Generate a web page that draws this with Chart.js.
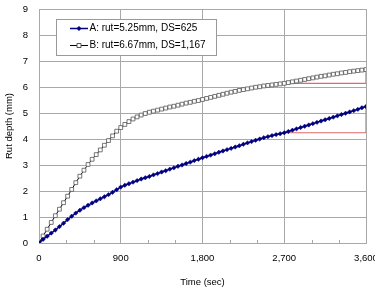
<!DOCTYPE html>
<html>
<head>
<meta charset="utf-8">
<script src="https://cdn.jsdelivr.net/npm/chart.js@4.4.0/dist/chart.umd.min.js"></script>
<style>
html, body { margin: 0; padding: 0; background: #fff; }
#wrap { width: 375px; height: 288px; }
</style>
</head>
<body>
<div id="wrap"><canvas id="chart" width="375" height="288"></canvas></div>
<script>
// elapsed time (sec)
const times = [0, 45, 90, 135, 180, 225, 270, 315, 360, 405,
    450, 495, 540, 585, 630, 675, 720, 765, 810, 855,
    900, 945, 990, 1035, 1080, 1125, 1170, 1215, 1260, 1305,
    1350, 1395, 1440, 1485, 1530, 1575, 1620, 1665, 1710, 1755,
    1800, 1845, 1890, 1935, 1980, 2025, 2070, 2115, 2160, 2205,
    2250, 2295, 2340, 2385, 2430, 2475, 2520, 2565, 2610, 2655,
    2700, 2745, 2790, 2835, 2880, 2925, 2970, 3015, 3060, 3105,
    3150, 3195, 3240, 3285, 3330, 3375, 3420, 3465, 3510, 3555,
    3600];

// rut depth (mm)
const rutA = [0.00, 0.14, 0.26, 0.38, 0.50, 0.63, 0.76, 0.90, 1.03, 1.15,
    1.26, 1.36, 1.45, 1.54, 1.62, 1.70, 1.78, 1.86, 1.95, 2.05,
    2.15, 2.22, 2.28, 2.34, 2.40, 2.46, 2.51, 2.56, 2.62, 2.67,
    2.73, 2.78, 2.84, 2.89, 2.95, 3.00, 3.06, 3.11, 3.17, 3.22,
    3.28, 3.33, 3.38, 3.43, 3.49, 3.54, 3.59, 3.64, 3.69, 3.74,
    3.80, 3.85, 3.90, 3.95, 4.00, 4.05, 4.09, 4.13, 4.17, 4.20,
    4.24, 4.29, 4.34, 4.39, 4.44, 4.49, 4.54, 4.59, 4.64, 4.69,
    4.74, 4.79, 4.84, 4.89, 4.94, 4.99, 5.04, 5.09, 5.14, 5.20,
    5.25];
const rutB = [0.00, 0.27, 0.53, 0.79, 1.05, 1.30, 1.55, 1.80, 2.06, 2.32,
    2.57, 2.80, 3.02, 3.22, 3.40, 3.58, 3.76, 3.94, 4.12, 4.30,
    4.44, 4.56, 4.67, 4.77, 4.85, 4.92, 4.98, 5.03, 5.07, 5.11,
    5.15, 5.19, 5.23, 5.26, 5.30, 5.34, 5.38, 5.41, 5.45, 5.48,
    5.52, 5.56, 5.60, 5.64, 5.68, 5.72, 5.76, 5.80, 5.83, 5.87,
    5.90, 5.93, 5.96, 5.99, 6.01, 6.04, 6.06, 6.08, 6.10, 6.12,
    6.14, 6.17, 6.20, 6.23, 6.26, 6.29, 6.32, 6.35, 6.38, 6.41,
    6.43, 6.46, 6.49, 6.51, 6.54, 6.56, 6.59, 6.61, 6.63, 6.65,
    6.67];

const labelA = 'A: rut=5.25mm, DS=625';
const labelB = 'B: rut=6.67mm, DS=1,167';

// DS slope triangles (45 -> 60 min)
const slopeTimes = [2700, 3600, 3600];
const slopeA = [4.24, 4.24, 5.25];
const slopeB = [6.14, 6.14, 6.67];

const minorTicks = [300, 600, 1200, 1500, 2100, 2400, 3000, 3300];

const FONT = '"Liberation Sans", Arial, sans-serif';
const GRID = '#a8a8a8';

const toPoints = (xs, ys) => xs.map((x, i) => ({ x: x, y: ys[i] }));

// small tick marks on the inside of the time axis
const minorTickPlugin = {
    id: 'minorTicks',
    afterDraw(chart) {
        const ctx = chart.ctx;
        const xs = chart.scales.x;
        const bottom = chart.chartArea.bottom;
        ctx.save();
        ctx.strokeStyle = GRID;
        ctx.lineWidth = 1;
        minorTicks.forEach(t => {
            const px = Math.round(xs.getPixelForValue(t)) + 0.5;
            ctx.beginPath();
            ctx.moveTo(px, bottom);
            ctx.lineTo(px, bottom - 3);
            ctx.stroke();
        });
        ctx.restore();
    }
};

// boxed legend inside the plot
const boxLegendPlugin = {
    id: 'boxLegend',
    afterDatasetsDraw(chart) {
        const ctx = chart.ctx;
        const x = 56.5, y = 19.5, w = 160, h = 36;
        ctx.save();
        ctx.fillStyle = '#fff';
        ctx.strokeStyle = '#999';
        ctx.lineWidth = 1;
        ctx.fillRect(x, y, w, h);
        ctx.strokeRect(x, y, w, h);
        ctx.font = '10px ' + FONT;
        ctx.textBaseline = 'middle';
        chart.data.datasets.slice(0, 2).forEach((ds, i) => {
            const cy = 28.5 + i * 17;
            ctx.strokeStyle = ds.borderColor;
            ctx.lineWidth = ds.borderWidth;
            ctx.beginPath();
            ctx.moveTo(70, cy);
            ctx.lineTo(88, cy);
            ctx.stroke();
            ctx.fillStyle = ds.pointBackgroundColor;
            ctx.strokeStyle = ds.pointBorderColor;
            ctx.lineWidth = 1;
            ctx.beginPath();
            if (ds.pointStyle === 'rect') {
                ctx.rect(77, cy - 2, 4, 4);
                ctx.fill();
                ctx.stroke();
            } else {
                ctx.moveTo(79, cy - 2.5);
                ctx.lineTo(81.5, cy);
                ctx.lineTo(79, cy + 2.5);
                ctx.lineTo(76.5, cy);
                ctx.closePath();
                ctx.fill();
            }
            ctx.fillStyle = '#000';
            ctx.fillText(ds.label, 89.5, cy);
        });
        ctx.restore();
    }
};

new Chart(document.getElementById('chart'), {
    type: 'line',
    data: {
        datasets: [
            {
                label: labelA,
                data: toPoints(times, rutA),
                borderColor: '#000080',
                borderWidth: 1.5,
                pointStyle: 'rectRot',
                pointRadius: 2.2,
                pointBackgroundColor: '#000080',
                pointBorderColor: '#000080',
                pointBorderWidth: 0.5,
                tension: 0
            },
            {
                label: labelB,
                data: toPoints(times, rutB),
                borderColor: '#000',
                borderWidth: 1,
                pointStyle: 'rect',
                pointRadius: 2.7,
                pointBackgroundColor: '#fff',
                pointBorderColor: '#555',
                pointBorderWidth: 0.8,
                tension: 0
            },
            {
                label: 'slopeA',
                data: toPoints(slopeTimes, slopeA),
                borderColor: '#e06a6a',
                borderWidth: 1.2,
                pointRadius: 0,
                tension: 0
            },
            {
                label: 'slopeB',
                data: toPoints(slopeTimes, slopeB),
                borderColor: '#e06a6a',
                borderWidth: 1.2,
                pointRadius: 0,
                tension: 0
            }
        ]
    },
    options: {
        responsive: false,
        animation: false,
        layout: { padding: { left: 0, top: 9, right: 9, bottom: 0 } },
        plugins: {
            legend: { display: false },
            tooltip: { enabled: false }
        },
        scales: {
            x: {
                type: 'linear',
                min: 0,
                max: 3600,
                afterFit: (scale) => {
                    scale.height = 45;
                    scale.paddingLeft = 0;
                    scale.paddingRight = 0;
                },
                ticks: {
                    stepSize: 900,
                    padding: 10,
                    maxRotation: 0,
                    color: '#000',
                    font: { family: FONT, size: 9.5 },
                    callback: (v) => v.toLocaleString('en-US')
                },
                grid: { color: GRID, drawTicks: false },
                border: { color: GRID },
                title: {
                    display: true,
                    text: 'Time (sec)',
                    color: '#000',
                    font: { family: FONT, size: 9.5 },
                    padding: { top: 0, bottom: 0 }
                }
            },
            y: {
                min: 0,
                max: 9,
                afterFit: (scale) => {
                    scale.width = 39;
                    scale.paddingTop = 0;
                    scale.paddingBottom = 0;
                },
                ticks: {
                    stepSize: 1,
                    padding: 11,
                    color: '#000',
                    font: { family: FONT, size: 9.5 }
                },
                grid: { color: GRID, drawTicks: false },
                border: { color: GRID },
                title: {
                    display: true,
                    text: 'Rut depth (mm)',
                    color: '#000',
                    font: { family: FONT, size: 9.5 },
                    padding: { top: 4, bottom: 0 }
                }
            }
        }
    },
    plugins: [minorTickPlugin, boxLegendPlugin]
});
</script>
</body>
</html>
